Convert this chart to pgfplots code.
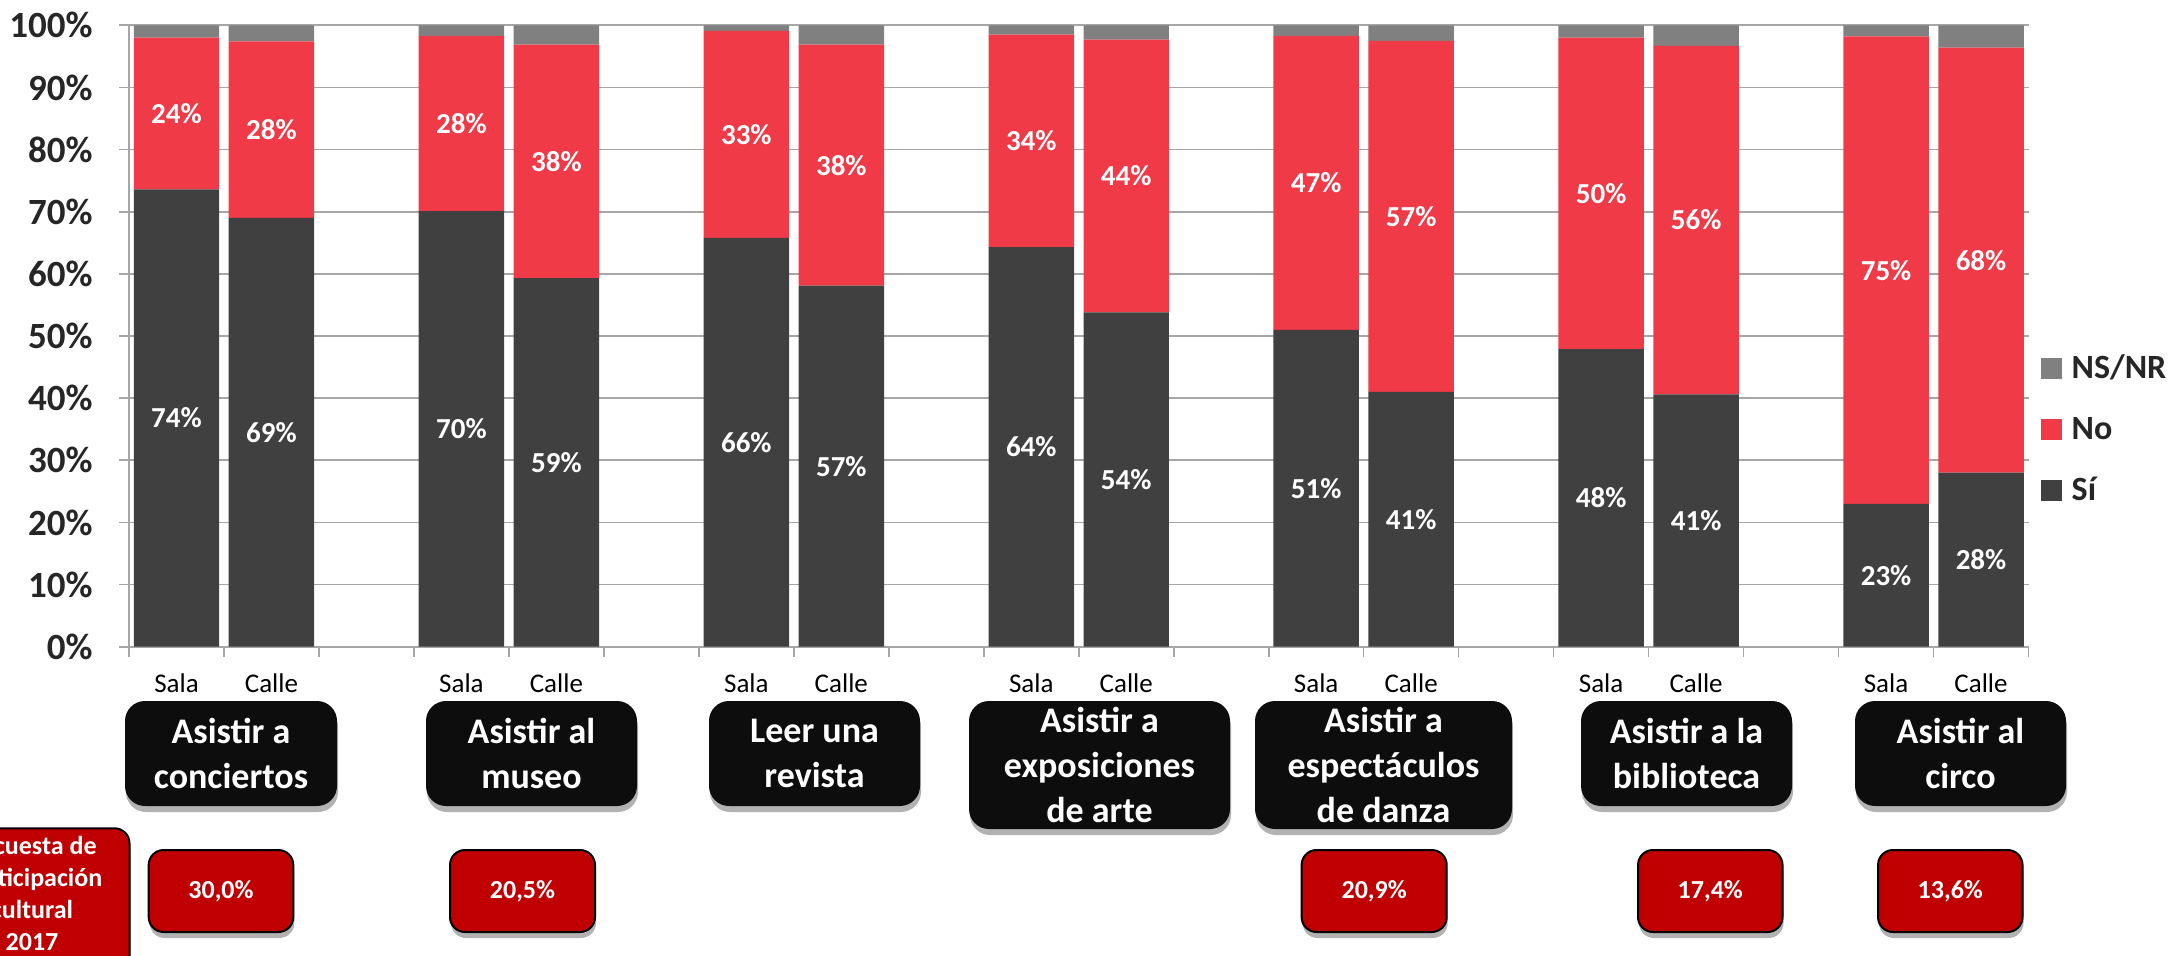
\documentclass[border=0pt]{standalone}
\usepackage{fontspec}
\setmainfont{Carlito}
\usepackage{pgfplots}
\pgfplotsset{compat=1.18}
\usepackage{pgfplotstable}
\usetikzlibrary{shadows}
\definecolor{cSi}{HTML}{404040}
\definecolor{cNo}{HTML}{F03A47}
\definecolor{cNs}{HTML}{808080}
\definecolor{cBox}{HTML}{0D0D0D}
\definecolor{cRed}{HTML}{C00000}
\definecolor{cGrid}{HTML}{A6A6A6}
\definecolor{cTxt}{HTML}{262626}

\pgfplotstableread{
x  si    no    ns   lsi lno
0  73.6  24.4  2.0  74  24
1  69.0  28.4  2.6  69  28
3  70.1  28.2  1.7  70  28
4  59.3  37.6  3.1  59  38
6  65.8  33.3  0.9  66  33
7  58.1  38.8  3.1  57  38
9  64.3  34.2  1.5  64  34
10 53.8  43.9  2.3  54  44
12 51.0  47.3  1.7  51  47
13 41.0  56.5  2.5  41  57
15 47.9  50.1  2.0  48  50
16 40.6  56.1  3.3  41  56
18 23.0  75.2  1.8  23  75
19 28.0  68.4  3.6  28  68
}\data

\pgfplotsset{
  sqlegend/.style={legend image code/.code={\fill[##1,draw=none] (0pt,-5.25pt) rectangle (10.5pt,5.25pt);}},
  base/.style={scale only axis, width=949.75pt, height=310.7pt, at={(64.5pt,154.15pt)}, anchor=south west,
    xmin=-0.5, xmax=19.5, ymin=0, ymax=100},
}
\tikzset{
  bbox/.style={fill=cBox, rounded corners=10pt, drop shadow={shadow xshift=0.5pt, shadow yshift=-3pt, opacity=0.3, fill=black}},
  rbox/.style={fill=cRed, draw=black, line width=1pt, rounded corners=7.5pt, drop shadow={shadow xshift=0.5pt, shadow yshift=-3pt, opacity=0.3, fill=black}},
}
\newcommand\bbox[5]{%
  \path[bbox] (#1pt,#3pt) rectangle (#2pt,#4pt);
  \node[text=white, align=center, inner sep=0pt, font=\bfseries\fontsize{18}{22.5}\selectfont] at ({(#1pt+#2pt)/2},{(#3pt+#4pt)/2}) {#5};
}
\newcommand\rbox[3]{%
  \path[rbox] (#1pt,11.5pt) rectangle (#2pt,52.5pt);
  \node[text=white, inner sep=0pt, font=\bfseries\fontsize{13}{15}\selectfont] at ({(#1pt+#2pt)/2},32pt) {#3};
}

\begin{document}
\begin{tikzpicture}
\begin{axis}[base,
  ybar stacked, bar width=0.9,
  every axis plot post/.append style={sqlegend},
  axis x line*=bottom, axis y line*=left,
  axis line style={cGrid, line width=0.8pt},
  ytick={0,10,...,100},
  yticklabels={0\%,10\%,20\%,30\%,40\%,50\%,60\%,70\%,80\%,90\%,100\%},
  ymajorgrids, grid style={cGrid, line width=0.8pt},
  xtick={-0.5,0.5,...,19.5}, xticklabels={},
  extra x ticks={0,1,3,4,6,7,9,10,12,13,15,16,18,19},
  extra x tick labels={Sala,Calle,Sala,Calle,Sala,Calle,Sala,Calle,Sala,Calle,Sala,Calle,Sala,Calle},
  extra x tick style={major tick length=0pt, grid=none,
    tick label style={anchor=base, inner sep=0pt, yshift=-23pt, font=\fontsize{13.5}{15}\selectfont, text=black}},
  tick align=outside, major tick length=5pt,
  tick style={cGrid, line width=0.8pt},
  yticklabel style={anchor=east, inner sep=0pt, xshift=-13pt, font=\bfseries\fontsize{18.5}{20}\selectfont, text=cTxt},
  reverse legend,
  legend cell align=left,
  legend style={draw=none, fill=none, inner sep=0pt, outer sep=0pt,
    at={(rel axis cs:1,0.3495)}, anchor=west, xshift=6.25pt,
    row sep=0pt, column sep=4.85pt,
    nodes={inner sep=0pt, minimum height=30.5pt, text=cTxt},
    font=\bfseries\fontsize{17}{19}\selectfont},
]
\addplot[fill=cSi, draw=none] table[x=x, y=si] {\data};
\addlegendentry{Sí}
\addplot[fill=cNo, draw=none] table[x=x, y=no] {\data};
\addlegendentry{No}
\addplot[fill=cNs, draw=none] table[x=x, y=ns] {\data};
\addlegendentry{NS/NR}
\end{axis}
\begin{axis}[base, hide axis,
  every node near coord/.style={anchor=center, inner sep=0pt, font=\bfseries\fontsize{14.5}{16}\selectfont, text=white}]
\addplot[draw=none, mark=none, nodes near coords={\pgfplotspointmeta\%}, point meta=explicit symbolic]
  table[x=x, y expr=\thisrow{si}/2, meta=lsi] {\data};
\addplot[draw=none, mark=none, nodes near coords={\pgfplotspointmeta\%}, point meta=explicit symbolic]
  table[x=x, y expr=\thisrow{si}+\thisrow{no}/2, meta=lno] {\data};
\end{axis}

\bbox{62.5}{168.5}{74.5}{127}{Asistir a\\conciertos}
\bbox{213}{318.5}{74.5}{127}{Asistir al\\museo}
\bbox{354.5}{460}{74.5}{127}{Leer una\\revista}
\bbox{484.5}{615}{63}{127}{Asistir a\\exposiciones\\de arte}
\bbox{627.5}{756}{63}{127}{Asistir a\\espectáculos\\de danza}
\bbox{790.5}{896}{74.5}{127}{Asistir a la\\biblioteca}
\bbox{927.5}{1033}{74.5}{127}{Asistir al\\circo}

\rbox{74.35}{146.65}{30,0\%}
\rbox{225}{297.5}{20,5\%}
\rbox{650.8}{723.35}{20,9\%}
\rbox{819}{891.25}{17,4\%}
\rbox{939}{1011.25}{13,6\%}

\begin{scope}
\clip (0,0) rectangle (1088.5pt,477.5pt);
\path[rbox] (-32.5pt,-14pt) rectangle (64.75pt,63.35pt);
\node[text=white, align=center, inner sep=0pt, font=\bfseries\fontsize{13}{16}\selectfont] at (16pt,31pt) {Encuesta de\\participación\\cultural\\2017};
\end{scope}

\pgfresetboundingbox
\useasboundingbox (0,0) rectangle (1088.5pt,477.5pt);
\end{tikzpicture}
\end{document}
